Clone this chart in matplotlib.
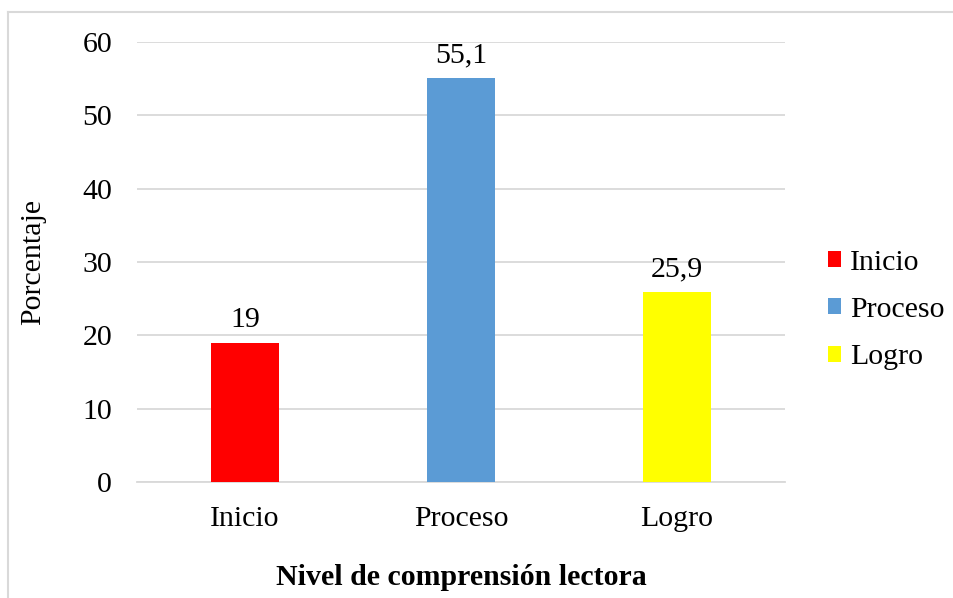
import matplotlib
matplotlib.use("Agg")
import matplotlib.pyplot as plt
from matplotlib.patches import Patch
from matplotlib.lines import Line2D

categories = ["Inicio", "Proceso", "Logro"]
values = [19, 55.1, 25.9]
value_labels = ["19", "55,1", "25,9"]
colors = ["#FF0000", "#5B9BD5", "#FFFF00"]
yticks = [0, 10, 20, 30, 40, 50, 60]

plt.rcParams['font.family'] = ['Liberation Serif', 'DejaVu Serif']
FS = 21.5

fig = plt.figure(figsize=(9.54, 5.98), dpi=100)
ax = fig.add_axes([137/954, 1-482/598, 648/954, 440/598])

x = list(range(len(categories)))
bars = ax.bar(x, values, width=0.315, color=colors, zorder=3)
for xi, v, lab in zip(x, values, value_labels):
    ax.annotate(lab, (xi, v), xytext=(0, 7), textcoords="offset points",
                ha="center", va="bottom", fontsize=FS, color="#000000")

ax.set_xlim(-0.5, 2.5)
ax.set_ylim(0, 60)
ax.set_yticks(yticks)
ax.set_yticklabels([str(t) for t in yticks], fontsize=FS)
ax.set_xticks(x)
ax.set_xticklabels(categories, fontsize=FS)
ax.tick_params(axis='both', length=0)
ax.tick_params(axis='y', pad=18)
ax.tick_params(axis='x', pad=17)
ax.grid(axis='y', color="#D9D9D9", linewidth=1.3, zorder=0)
for s in ["top", "right", "left"]:
    ax.spines[s].set_visible(False)
ax.spines["bottom"].set_color("#D9D9D9")
ax.spines["bottom"].set_linewidth(1.3)

ax.set_ylabel("Porcentaje", fontsize=FS)
ax.yaxis.set_label_coords(-0.14, 0.5)
ax.set_xlabel("Nivel de comprensión lectora", fontsize=FS, fontweight="bold", labelpad=23)

handles = [Patch(facecolor=c, label=l) for c, l in zip(colors, categories)]
fig.legend(handles=handles, loc="center left", bbox_to_anchor=(828/954, 1-310/598),
           frameon=False, fontsize=FS, handlelength=0.44, handleheight=0.44,
           handletextpad=0.3, labelspacing=0.72, borderaxespad=0, borderpad=0)

xl = 8/954
yt = 1 - 12/598
fig.add_artist(Line2D([xl, xl], [0, yt], transform=fig.transFigure,
                      color="#D9D9D9", linewidth=1.5))
fig.add_artist(Line2D([xl, 1], [yt, yt], transform=fig.transFigure,
                      color="#D9D9D9", linewidth=1.5))

fig.savefig("out.png", dpi=100)
